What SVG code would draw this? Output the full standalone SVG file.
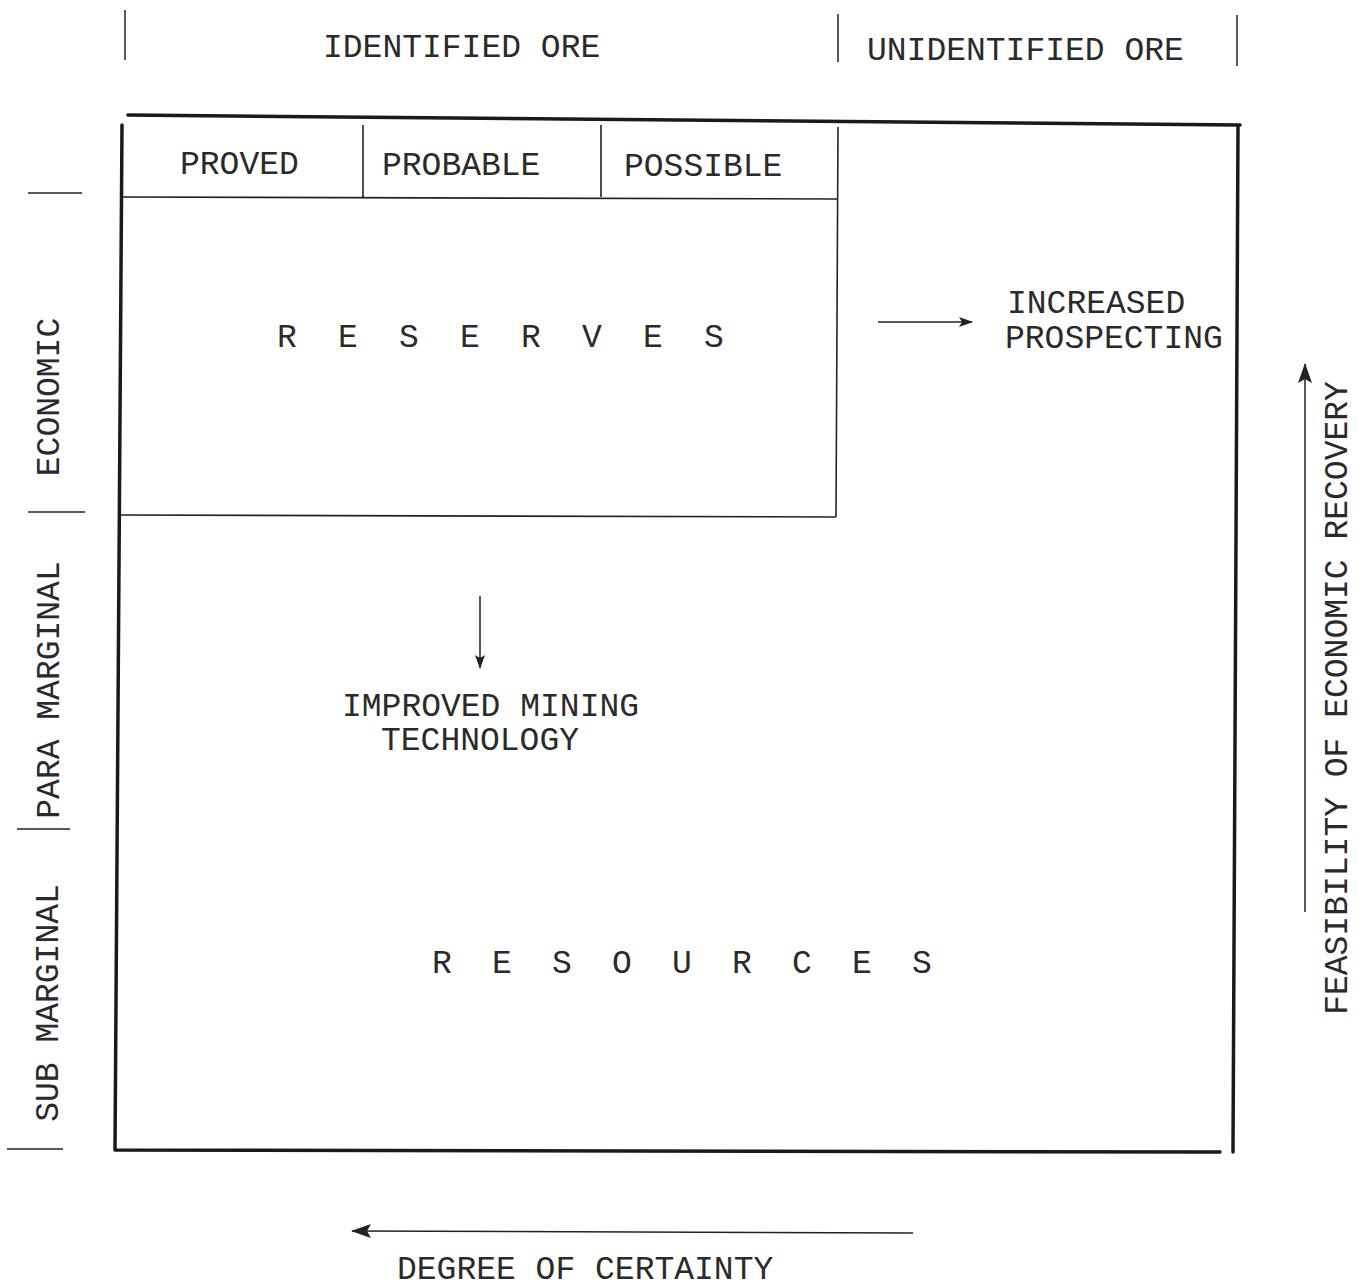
<svg xmlns="http://www.w3.org/2000/svg" width="1357" height="1288" viewBox="0 0 1357 1288">
<style>
text{font-family:"Liberation Mono","DejaVu Sans Mono",monospace;font-size:33px;fill:#2a2a2a}
.thick{stroke:#1a1a1a;stroke-width:3.5;fill:none;stroke-linecap:round}
.thin{stroke:#222;stroke-width:1.6;fill:none}
.ln{stroke:#222;stroke-width:1.5;fill:none}
.sp1{letter-spacing:10.7px}
.sp2{letter-spacing:10.2px}
</style>
<defs>
<marker id="ah" viewBox="0 0 14 10" refX="13" refY="5" markerWidth="14" markerHeight="10" markerUnits="userSpaceOnUse" orient="auto">
<path d="M0,0 L14,5 L0,10 L3,5 Z" fill="#222"/>
</marker>
<marker id="ahb" viewBox="0 0 20 14" refX="19" refY="7" markerWidth="20" markerHeight="14" markerUnits="userSpaceOnUse" orient="auto">
<path d="M0,0 L20,7 L0,14 L4,7 Z" fill="#222"/>
</marker>
</defs>
<g id="header">
<line class="ln" x1="125" y1="10" x2="125" y2="60"/>
<line class="ln" x1="838" y1="14" x2="838" y2="62"/>
<line class="ln" x1="1237" y1="15" x2="1237" y2="66"/>
<text x="323" y="57">IDENTIFIED ORE</text>
<text x="867" y="60">UNIDENTIFIED ORE</text>
</g>
<g id="resources">
<path class="thick" d="M128,115 L1240,125 M122,125 L115,1150 M1238,127 L1233,1152 M115,1150 L1220,1152"/>
<text class="sp2" x="432" y="973">R E S O U R C E S</text>
</g>
<g id="reserves">
<path class="thin" d="M122,197 L838,199 M363,125 L363,197 M601,125 L601,197 M838,127 L836,517 M120,515 L836,517"/>
<text x="180" y="174">PROVED</text>
<text x="382" y="175">PROBABLE</text>
<text x="624" y="176">POSSIBLE</text>
<text class="sp1" x="277" y="347">R E S E R V E S</text>
</g>
<g id="left-axis">
<line class="ln" x1="28" y1="193" x2="82" y2="193"/>
<line class="ln" x1="28" y1="512" x2="85" y2="512"/>
<line class="ln" x1="17" y1="829" x2="70" y2="829"/>
<line class="ln" x1="7" y1="1149" x2="63" y2="1149"/>
<text transform="translate(59,397) rotate(-90)" text-anchor="middle">ECONOMIC</text>
<text transform="translate(59,690) rotate(-90)" text-anchor="middle">PARA MARGINAL</text>
<text transform="translate(58,1003) rotate(-90)" text-anchor="middle">SUB MARGINAL</text>
</g>
<g id="increased-prospecting">
<text x="1007" y="313">INCREASED</text>
<text x="1005" y="348">PROSPECTING</text>
</g>
<g id="improved-mining">
<text x="342" y="716">IMPROVED MINING</text>
<text x="381" y="750">TECHNOLOGY</text>
</g>
<g id="feasibility">
<text transform="translate(1347,698) rotate(-90)" text-anchor="middle">FEASIBILITY OF ECONOMIC RECOVERY</text>
</g>
<g id="certainty">
<text x="397" y="1279">DEGREE OF CERTAINTY</text>
</g>
<g id="connectors">
<line class="ln" x1="878" y1="322" x2="972" y2="322" marker-end="url(#ah)"/>
<line class="ln" x1="480" y1="596" x2="480" y2="668" marker-end="url(#ah)"/>
<line class="ln" x1="1305" y1="912" x2="1305" y2="364" marker-end="url(#ahb)"/>
<line class="ln" x1="913" y1="1233" x2="352" y2="1231" marker-end="url(#ahb)"/>
</g>
</svg>
